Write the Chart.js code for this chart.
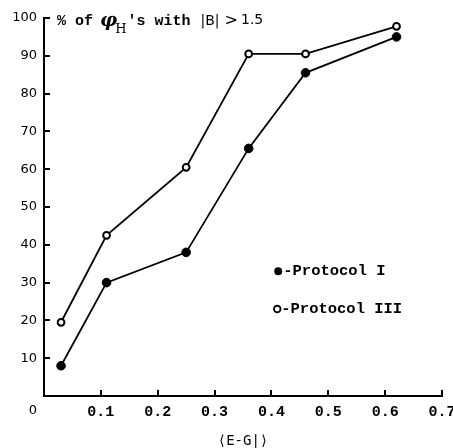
<!DOCTYPE html>
<html>
<head>
<meta charset="utf-8">
<script src="https://cdn.jsdelivr.net/npm/chart.js@4.4.1/dist/chart.umd.min.js"></script>
<style>
html,body{margin:0;padding:0;background:#fff;}
#wrap{width:453px;height:448px;position:relative;}
</style>
</head>
<body>
<div id="wrap"><canvas id="c" width="453" height="448"></canvas></div>
<script>
// ---- data ----
const egValues = [0.03, 0.11, 0.25, 0.36, 0.46, 0.62];
const protocolI = [8, 30, 38, 65.5, 85.5, 95];
const protocolIII = [19.5, 42.5, 60.5, 90.5, 90.5, 97.8];
const xTickValues = [0, 0.1, 0.2, 0.3, 0.4, 0.5, 0.6, 0.7];
const yTickValues = [0, 10, 20, 30, 40, 50, 60, 70, 80, 90, 100];
const seriesNames = ['Protocol I', 'Protocol III'];
const xTitle = '\u27E8E-G|\u27E9';

const MONO = '"Liberation Mono", "DejaVu Sans Mono", monospace';
const SANS = '"DejaVu Sans", "Liberation Sans", sans-serif';

function toPoints(xs, ys){ return xs.map((x,i)=>({x:x, y:ys[i]})); }

const decor = {
  id: 'decor',
  afterDraw(chart){
    const ctx = chart.ctx;
    const xs = chart.scales.x, ys = chart.scales.y;
    const ca = chart.chartArea;
    ctx.save();
    ctx.strokeStyle = '#000';
    ctx.lineWidth = 2;
    // inward tick marks
    yTickValues.forEach(v=>{
      if(v===0) return;
      const p = Math.round(ys.getPixelForValue(v));
      ctx.beginPath(); ctx.moveTo(ca.left, p); ctx.lineTo(ca.left+6, p); ctx.stroke();
    });
    xTickValues.forEach(v=>{
      if(v===0) return;
      const p = Math.round(xs.getPixelForValue(v));
      ctx.beginPath(); ctx.moveTo(p, ca.bottom); ctx.lineTo(p, ca.bottom-6); ctx.stroke();
    });
    // origin label
    ctx.fillStyle = '#000';
    ctx.font = '13px ' + SANS;
    ctx.textAlign = 'center';
    ctx.textBaseline = 'middle';
    ctx.fillText('0', xs.getPixelForValue(0) - 11, ca.bottom + 15);

    // y-axis caption inside plot
    ctx.textAlign = 'left';
    ctx.textBaseline = 'alphabetic';
    let x = ca.left + 13;
    const base = ys.getPixelForValue(100) + 7;
    ctx.font = 'bold 15px ' + MONO;
    ctx.fillText('% of ', x, base);
    x += ctx.measureText('% of ').width - 2;
    ctx.font = 'bold italic 19px "DejaVu Serif", serif';
    ctx.fillText('\u03C6', x, base + 1);
    x += ctx.measureText('\u03C6').width;
    ctx.font = '13px "DejaVu Serif", serif';
    ctx.fillText('H', x - 2, base + 8);
    x += ctx.measureText('H').width - 1;
    ctx.font = 'bold 15px ' + MONO;
    ctx.fillText("'s with ", x, base);
    x += ctx.measureText("'s with ").width + 1;
    ctx.font = '14px ' + SANS;
    ctx.fillText('|B|', x, base);
    x += ctx.measureText('|B|').width + 5;
    ctx.font = '16px ' + SANS;
    ctx.fillText('>', x, base);
    x += ctx.measureText('>').width + 3;
    ctx.font = '14px ' + SANS;
    ctx.fillText('1.5', x, base - 1);

    // legend
    const legendX = xs.getPixelForValue(0.412);
    const ly1 = ys.getPixelForValue(33), ly2 = ys.getPixelForValue(23);
    ctx.beginPath(); ctx.arc(legendX, ly1, 4, 0, Math.PI*2); ctx.fill();
    ctx.lineWidth = 1.8;
    ctx.beginPath(); ctx.arc(legendX - 1, ly2, 3.3, 0, Math.PI*2); ctx.stroke();
    ctx.font = 'bold 15.5px ' + MONO;
    ctx.textBaseline = 'middle';
    ctx.fillText('-' + seriesNames[0], legendX + 5, ly1);
    ctx.fillText('-' + seriesNames[1], legendX + 3, ly2);
    ctx.restore();
  }
};

new Chart(document.getElementById('c'), {
  type: 'scatter',
  data: {
    datasets: [
      {
        label: seriesNames[0],
        data: toPoints(egValues, protocolI),
        showLine: true,
        borderColor: '#000',
        backgroundColor: '#000',
        borderWidth: 1.8,
        pointRadius: 4.3,
        pointBorderWidth: 1,
        pointBackgroundColor: '#000',
        pointBorderColor: '#000',
        clip: false
      },
      {
        label: seriesNames[1],
        data: toPoints(egValues, protocolIII),
        showLine: true,
        borderColor: '#000',
        backgroundColor: '#fff',
        borderWidth: 1.8,
        pointRadius: 3.4,
        pointBorderWidth: 2,
        pointBackgroundColor: '#fff',
        pointBorderColor: '#000',
        clip: false
      }
    ]
  },
  options: {
    responsive: false,
    animation: false,
    events: [],
    layout: { padding: { left: 0, right: 11, top: 18, bottom: 0 } },
    plugins: { legend: { display: false }, tooltip: { enabled: false }, title: { display: false } },
    scales: {
      x: {
        type: 'linear',
        min: 0, max: 0.7,
        afterBuildTicks(scale){ scale.ticks = xTickValues.map(v=>({value:v})); },
        afterFit(scale){ scale.height = 52; scale.paddingLeft = 0; scale.paddingRight = 0; },
        grid: { display: true, drawOnChartArea: false, drawTicks: false },
        border: { display: true, color: '#000', width: 2 },
        ticks: {
          color: '#000',
          font: { family: MONO, size: 15, weight: 'bold' },
          padding: 7,
          maxRotation: 0,
          autoSkip: false,
          callback: (v) => v === 0 ? '' : Number(v).toFixed(1)
        },
        title: {
          display: true, text: xTitle, color: '#000',
          font: { family: '"DejaVu Sans Mono", monospace', size: 14, lineHeight: 1 },
          padding: { top: 0, bottom: 0 }
        }
      },
      y: {
        type: 'linear',
        min: 0, max: 100,
        afterBuildTicks(scale){ scale.ticks = yTickValues.map(v=>({value:v})); },
        afterFit(scale){ scale.width = 44; scale.paddingTop = 0; scale.paddingBottom = 0; },
        grid: { display: true, drawOnChartArea: false, drawTicks: false },
        border: { display: true, color: '#000', width: 2 },
        ticks: {
          color: '#000',
          font: { family: SANS, size: 13 },
          padding: 7,
          autoSkip: false,
          callback: (v) => v === 0 ? '' : String(v)
        }
      }
    }
  },
  plugins: [decor]
});
</script>
</body>
</html>
